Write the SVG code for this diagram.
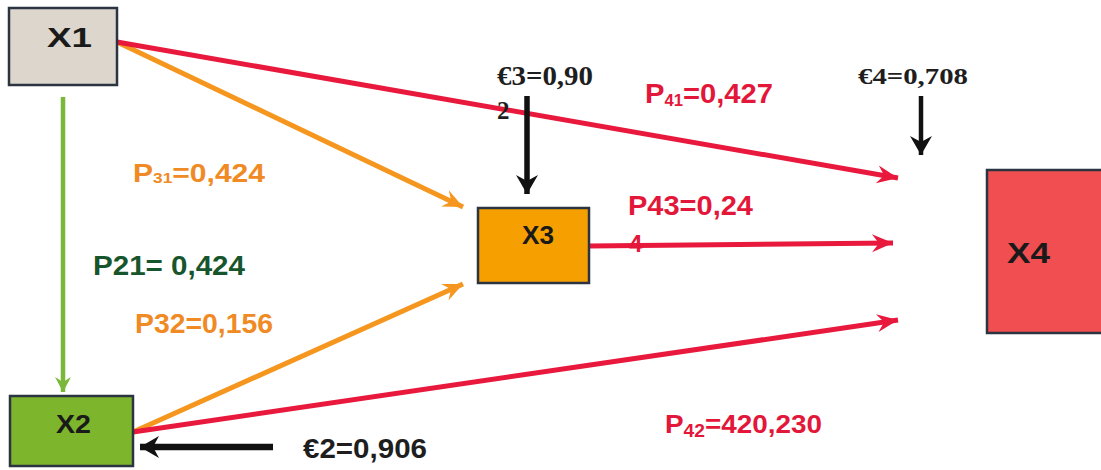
<svg xmlns="http://www.w3.org/2000/svg" width="1101" height="470" viewBox="0 0 1101 470">
<style>
.lbl{font-family:"Liberation Sans",Arial,sans-serif;font-weight:bold;}
.ser{font-family:"Liberation Serif","Times New Roman",serif;font-weight:bold;fill:#1e1e1e;}
.node{stroke:#2b3440;stroke-width:2.5;}
.red{fill:#e3173a;}
.org{fill:#f08a24;}
</style>
<defs>
<marker id="mRed" markerUnits="userSpaceOnUse" markerWidth="26" markerHeight="22" viewBox="-22 -11 24 22" refX="0" refY="0" orient="auto"><path d="M0,0 L-21,-9 L-14,0 L-21,9 Z" fill="#e8193c"/></marker>
<marker id="mOrg" markerUnits="userSpaceOnUse" markerWidth="26" markerHeight="22" viewBox="-22 -11 24 22" refX="0" refY="0" orient="auto"><path d="M0,0 L-20,-9 L-13,0 L-20,9 Z" fill="#f5961e"/></marker>
<marker id="mGrn" markerUnits="userSpaceOnUse" markerWidth="24" markerHeight="20" viewBox="-20 -10 22 20" refX="0" refY="0" orient="auto"><path d="M0,0 L-15,-8 L-10,0 L-15,8 Z" fill="#7ab83a"/></marker>
<marker id="mBlk" markerUnits="userSpaceOnUse" markerWidth="26" markerHeight="26" viewBox="-22 -13 24 26" refX="0" refY="0" orient="auto"><path d="M0,0 L-19,-11 L-13,0 L-19,11 Z" fill="#111"/></marker>
</defs>
<rect width="1101" height="470" fill="#ffffff"/>
<g id="connectors" fill="none">
<line x1="63" y1="97" x2="63" y2="392" stroke="#7ab83a" stroke-width="4.5" marker-end="url(#mGrn)"/>
<line x1="117" y1="42" x2="463" y2="207" stroke="#f5961e" stroke-width="5" marker-end="url(#mOrg)"/>
<line x1="117" y1="42" x2="898" y2="178" stroke="#e8193c" stroke-width="5" marker-end="url(#mRed)"/>
<line x1="133" y1="432" x2="463" y2="284" stroke="#f5961e" stroke-width="5" marker-end="url(#mOrg)"/>
<line x1="133" y1="432" x2="898" y2="320" stroke="#e8193c" stroke-width="5" marker-end="url(#mRed)"/>
<line x1="589" y1="246" x2="893" y2="243" stroke="#e8193c" stroke-width="5" marker-end="url(#mRed)"/>
<line x1="527" y1="96" x2="527" y2="194" stroke="#111" stroke-width="5.5" marker-end="url(#mBlk)"/>
<line x1="921" y1="96" x2="921" y2="155" stroke="#111" stroke-width="4.5" marker-end="url(#mBlk)"/>
<line x1="273" y1="447" x2="140" y2="447" stroke="#111" stroke-width="6.5" marker-end="url(#mBlk)"/>
</g>
<g id="X1"><rect class="node" x="9" y="8" width="108" height="77" fill="#dcd6cc"/><text class="lbl" x="47" y="47" font-size="28" fill="#1a1a1a" textLength="45" lengthAdjust="spacingAndGlyphs">X1</text></g>
<g id="X2"><rect class="node" x="10" y="396" width="123" height="70" fill="#7db52c"/><text class="lbl" x="56" y="433" font-size="25" fill="#1a1a1a" textLength="35" lengthAdjust="spacingAndGlyphs">X2</text></g>
<g id="X3"><rect class="node" x="478" y="208" width="111" height="75" fill="#f5a000"/><text class="lbl" x="522" y="244" font-size="25" fill="#1a1a1a" textLength="32" lengthAdjust="spacingAndGlyphs">X3</text></g>
<g id="X4"><rect class="node" x="987" y="170" width="120" height="163" fill="#f04e50"/><text class="lbl" x="1007" y="263" font-size="29" fill="#1a1a1a" textLength="43" lengthAdjust="spacingAndGlyphs">X4</text></g>
<g id="labels">
<text class="ser" x="497" y="85" font-size="28" textLength="96" lengthAdjust="spacingAndGlyphs">€3=0,90</text>
<text class="ser" x="497" y="119" font-size="25">2</text>
<text class="ser" x="858" y="84" font-size="23" textLength="110" lengthAdjust="spacingAndGlyphs">€4=0,708</text>
<text class="lbl" x="303" y="458" font-size="27" fill="#1e1e1e" textLength="124" lengthAdjust="spacingAndGlyphs">€2=0,906</text>
<text class="lbl red" x="645" y="103" font-size="28" textLength="128" lengthAdjust="spacingAndGlyphs">P<tspan font-size="16" dy="3">41</tspan><tspan dy="-3">=0,427</tspan></text>
<text class="lbl red" x="628" y="215" font-size="28" textLength="125" lengthAdjust="spacingAndGlyphs">P43=0,24</text>
<text class="lbl red" x="629" y="252" font-size="24">4</text>
<text class="lbl red" x="665" y="433" font-size="26" textLength="157" lengthAdjust="spacingAndGlyphs">P<tspan font-size="18" dy="4">42</tspan><tspan dy="-4">=420,230</tspan></text>
<text class="lbl org" x="133" y="182" font-size="26" textLength="132" lengthAdjust="spacingAndGlyphs">P<tspan font-size="15" dy="1">31</tspan><tspan dy="-1">=0,424</tspan></text>
<text class="lbl" x="93" y="275" font-size="27" fill="#17552c" textLength="152" lengthAdjust="spacingAndGlyphs">P21= 0,424</text>
<text class="lbl org" x="135" y="333" font-size="28" textLength="138" lengthAdjust="spacingAndGlyphs">P32=0,156</text>
</g>
</svg>
